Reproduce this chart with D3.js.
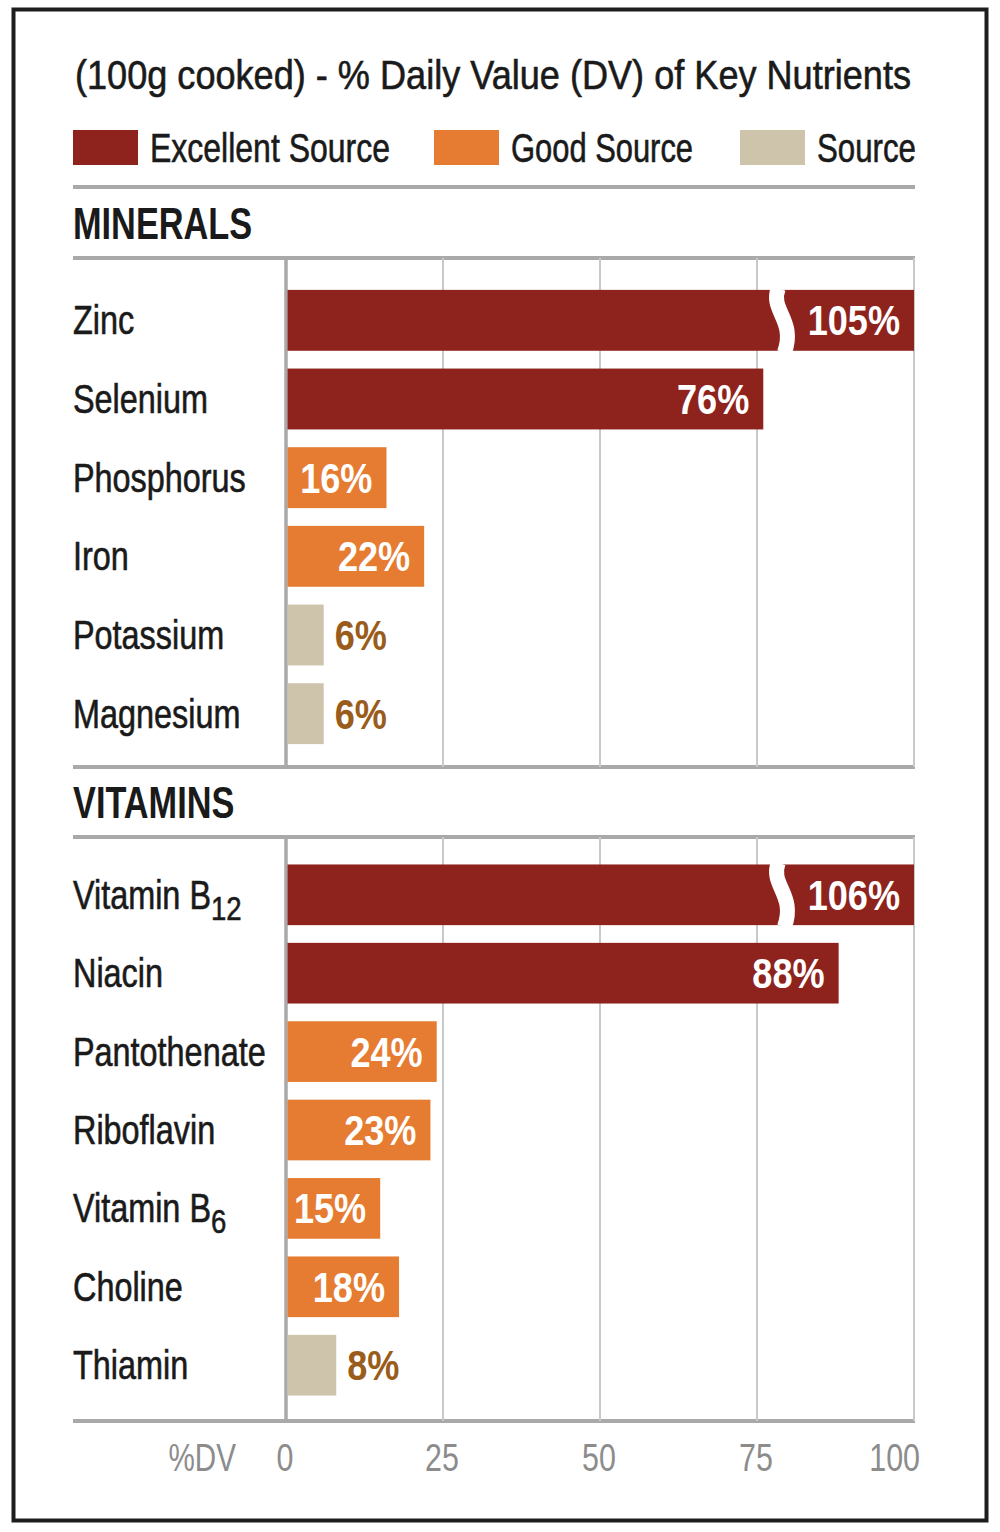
<!DOCTYPE html>
<html><head><meta charset="utf-8">
<script src="https://cdn.jsdelivr.net/npm/d3@7"></script>
<style>
html,body{margin:0;padding:0;background:#fff;}
svg{display:block;font-family:"Liberation Sans",Arial,Helvetica,sans-serif;}
</style></head>
<body>
<svg id="chart" width="1000" height="1532"></svg>
<script>
// ---- data ----
const title = "(100g cooked) - % Daily Value (DV) of Key Nutrients";
const legendLevels = ["excellent", "good", "source"];
const legendLabels = ["Excellent Source", "Good Source", "Source"];

const mineralNames = ["Zinc", "Selenium", "Phosphorus", "Iron", "Potassium", "Magnesium"];
const mineralSubs = ["", "", "", "", "", ""];
const mineralValues = [105, 76, 16, 22, 6, 6];
const mineralLevels = ["excellent", "excellent", "good", "good", "source", "source"];

const vitaminNames = ["Vitamin B", "Niacin", "Pantothenate", "Riboflavin", "Vitamin B", "Choline", "Thiamin"];
const vitaminSubs = ["12", "", "", "", "6", "", ""];
const vitaminValues = [106, 88, 24, 23, 15, 18, 8];
const vitaminLevels = ["excellent", "excellent", "good", "good", "good", "good", "source"];

const tickValues = [0, 25, 50, 75, 100];
const axisTitle = "%DV";

// ---- styles ----
const colors = { excellent: "#8e231e", good: "#e57c31", source: "#cdc4ab" };
const outsideLabelColor = "#9a5c1b";
const ruleColor = "#a9a9a9";
const gridColor = "#c9c9c9";
const ink = "#1a1a1a";

const svg = d3.select("#chart");
const left = 73, right = 915;
const x = d3.scaleLinear().domain([0, 100]).range([286, 914]);
const color = d3.scaleOrdinal().domain(legendLevels).range(legendLevels.map(l => colors[l]));

// condensed text helper: horizontally squeezed text placed at (px,py)
const squeeze = (px, py, sx) => `translate(${px},${py}) scale(${sx},1)`;

// frame
svg.append("rect").attr("x", 13.5).attr("y", 9.5).attr("width", 973).attr("height", 1511)
  .attr("fill", "none").attr("stroke", "#1d1d1d").attr("stroke-width", 4);

// title
svg.append("text").attr("x", left + 2).attr("y", 89).attr("font-size", 40).attr("fill", ink)
  .attr("stroke", ink).attr("stroke-width", 0.6)
  .attr("textLength", 836).attr("lengthAdjust", "spacingAndGlyphs").text(title);

// legend
const legendX = [73, 434, 740];
const legendTextW = [240, 182, 99];
legendLevels.forEach((lv, i) => {
  svg.append("rect").attr("x", legendX[i]).attr("y", 130).attr("width", 65).attr("height", 35).attr("fill", color(lv));
  svg.append("text").attr("x", legendX[i] + 77).attr("y", 162).attr("font-size", 40).attr("fill", ink)
    .attr("stroke", ink).attr("stroke-width", 0.6)
    .attr("textLength", legendTextW[i]).attr("lengthAdjust", "spacingAndGlyphs").text(legendLabels[i]);
});

function hrule(y) {
  svg.append("line").attr("x1", left).attr("x2", right).attr("y1", y).attr("y2", y)
    .attr("stroke", ruleColor).attr("stroke-width", 4);
}
hrule(187);

function section(name, headerY, top, bottom, bandRange, names, subs, values, levels) {
  svg.append("text").attr("transform", squeeze(left, headerY, 0.78)).attr("font-size", 44).attr("font-weight", "bold")
    .attr("fill", ink).text(name);
  hrule(top);
  hrule(bottom);
  // grid
  svg.append("g").selectAll("line").data(tickValues.slice(1)).join("line")
    .attr("x1", d => x(d)).attr("x2", d => x(d)).attr("y1", top).attr("y2", bottom)
    .attr("stroke", gridColor).attr("stroke-width", 2);
  svg.append("line").attr("x1", x(0)).attr("x2", x(0)).attr("y1", top).attr("y2", bottom + 2)
    .attr("stroke", ruleColor).attr("stroke-width", 3.5);

  const y = d3.scaleBand().domain(names.map((n, i) => i)).range(bandRange).paddingInner(0.226).paddingOuter(0.113);
  const rows = names.map((n, i) => ({ i, name: n, sub: subs[i], value: values[i], level: levels[i] }));
  const g = svg.append("g");
  // bars
  g.selectAll("rect.bar").data(rows).join("rect").attr("class", "bar")
    .attr("x", x(0) + 1.5).attr("y", d => y(d.i))
    .attr("width", d => x(Math.min(d.value, 100)) - x(0) - 1.5).attr("height", y.bandwidth())
    .attr("fill", d => color(d.level));
  // break marks for values beyond the scale
  g.selectAll("path.brk").data(rows.filter(d => d.value > 100)).join("path").attr("class", "brk")
    .attr("d", d => {
      const bx = x(78.4), t = y(d.i) - 2, b = y(d.i) + y.bandwidth() + 2, h = b - t;
      return `M${bx},${t} C${bx - 9},${t + h * 0.35} ${bx + 18},${t + h * 0.5} ${bx + 6},${b}`;
    })
    .attr("fill", "none").attr("stroke", "#fff").attr("stroke-width", 15);
  // value labels
  g.selectAll("text.val").data(rows).join("text").attr("class", "val")
    .attr("transform", d => squeeze(
      d.level === "source" ? x(d.value) + 11 : x(Math.min(d.value, 100)) - 14,
      y(d.i) + y.bandwidth() / 2 + 15, 0.86))
    .attr("text-anchor", d => d.level === "source" ? "start" : "end")
    .attr("font-size", 42).attr("font-weight", "bold")
    .attr("fill", d => d.level === "source" ? outsideLabelColor : "#fff")
    .text(d => d.value + "%");
  // category labels
  const lab = g.selectAll("text.cat").data(rows).join("text").attr("class", "cat")
    .attr("transform", d => squeeze(left, y(d.i) + y.bandwidth() / 2 + 14, 0.81))
    .attr("font-size", 40).attr("fill", ink).attr("stroke", ink).attr("stroke-width", 0.6);
  lab.append("tspan").text(d => d.name);
  lab.filter(d => d.sub).append("tspan").attr("font-size", 34).attr("dy", 11).text(d => d.sub);
}

section("MINERALS", 239, 258, 767, [281, 753], mineralNames, mineralSubs, mineralValues, mineralLevels);
section("VITAMINS", 818, 837, 1421, [855.6, 1404.4], vitaminNames, vitaminSubs, vitaminValues, vitaminLevels);

// axis labels
const tickG = svg.append("g").attr("font-size", 38).attr("fill", "#8c8c8c");
tickG.selectAll("text").data(tickValues).join("text")
  .attr("transform", (d, i) => squeeze(i === tickValues.length - 1 ? x(d) + 6 : x(d) - 1, 1471, 0.8))
  .attr("text-anchor", (d, i) => i === tickValues.length - 1 ? "end" : "middle")
  .text(d => d);
tickG.append("text").attr("transform", squeeze(236, 1471, 0.78)).attr("text-anchor", "end").text(axisTitle);
</script>
</body></html>
